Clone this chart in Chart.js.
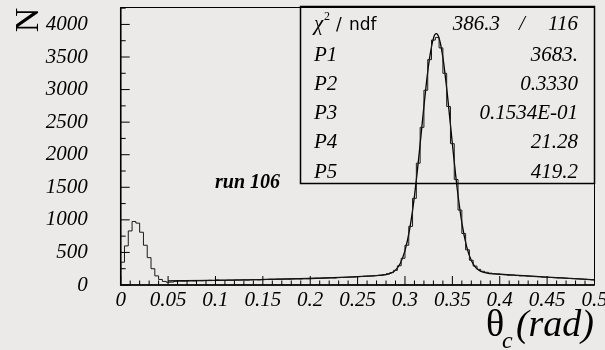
<!DOCTYPE html>
<html><head><meta charset="utf-8">
<script src="https://cdn.jsdelivr.net/npm/chart.js@4"></script>
<style>html,body{margin:0;padding:0;background:#eceae9;}#wrap{width:605px;height:350px;}</style>
</head><body><div id="wrap"><canvas id="c" width="605" height="350"></canvas></div>
<script>
// ---- data ----
const binWidth = 0.004;
const binCounts = [
 350,600,830,975,950,810,610,420,250,140,
 85,55,42,45,55,62,60,64,66,63,
 68,66,70,72,69,78,74,73,76,75,
 78,77,80,76,82,84,80,86,84,88,
 86,90,88,92,90,95,97,94,100,98,
 102,104,101,106,108,110,107,114,116,118,
 122,121,127,130,134,138,141,146,150,160,
 172,190,225,295,410,610,900,1330,1870,2420,
 2990,3460,3760,3800,3640,3250,2740,2170,1620,1150,
 790,540,380,290,240,210,195,182,175,170,
 162,158,150,152,145,140,142,135,132,128,
 126,120,118,115,112,108,110,104,100,98,
 95,92,88,85,80
];
const fitX = [0.05,0.1,0.15,0.2,0.24,0.26,0.27,0.28,0.285,0.29,0.295,0.3,0.305,0.31,0.315,0.32,0.325,0.33,0.333,0.336,0.34,0.345,0.35,0.355,0.36,0.365,0.37,0.375,0.38,0.39,0.4,0.42,0.45,0.5];
const fitY = [62,72,84,100,120,135,144,159,181,229,331,527,862,1365,2021,2744,3388,3787,3858,3788,3494,2889,2169,1493,959,594,376,262,208,176,165,148,120,80];
const xTickValues = [0,0.05,0.1,0.15,0.2,0.25,0.3,0.35,0.4,0.45,0.5];
const xTickLabels = ["0","0.05","0.1","0.15","0.2","0.25","0.3","0.35","0.4","0.45","0.5"];
const yTickValues = [0,500,1000,1500,2000,2500,3000,3500,4000];
const yTickLabels = ["0","500","1000","1500","2000","2500","3000","3500","4000"];
const statNames = ["P1","P2","P3","P4","P5"];
const statValues = ["3683.","0.3330","0.1534E-01","21.28","419.2"];
const chi2Value = "386.3";
const ndfValue = "116";
const runLabel = "run 106";

// ---- chart ----
const SERIF = "'Liberation Serif', 'Times New Roman', serif";
const tickFont = {family: SERIF, size: 21, style: 'italic'};

const histPoints = [{x: 0, y: 0}].concat(
  binCounts.map((c, i) => ({x: i * binWidth, y: c})),
  [{x: binCounts.length * binWidth, y: binCounts[binCounts.length - 1]}]
);
const fitPoints = fitX.map((x, i) => ({x: x, y: fitY[i]}));

const rootStyle = {
  id: 'rootStyle',
  beforeDraw(chart) {
    const ctx = chart.ctx;
    ctx.save();
    ctx.fillStyle = '#eceae9';
    ctx.fillRect(0, 0, chart.width, chart.height);
    ctx.restore();
  },
  afterDatasetsDraw(chart) {
    const ctx = chart.ctx;
    const a = chart.chartArea;
    const xs = chart.scales.x, ys = chart.scales.y;
    ctx.save();
    // frame
    ctx.strokeStyle = '#000';
    ctx.lineWidth = 1;
    ctx.strokeRect(a.left, a.top, a.right - a.left, a.bottom - a.top);
    ctx.lineWidth = 1.5;
    ctx.beginPath();
    ctx.moveTo(a.left, a.top); ctx.lineTo(a.left, a.bottom); ctx.lineTo(a.right, a.bottom);
    ctx.stroke();
    // ticks
    ctx.lineWidth = 1;
    ctx.beginPath();
    for (let k = 0; k < xTickValues.length; k++) {
      const v = xTickValues[k];
      const px = xs.getPixelForValue(v);
      ctx.moveTo(px, a.bottom); ctx.lineTo(px, a.bottom - 9);
      if (k < xTickValues.length - 1) {
        const step = (xTickValues[k + 1] - v) / 5;
        for (let m = 1; m < 5; m++) {
          const pm = xs.getPixelForValue(v + m * step);
          ctx.moveTo(pm, a.bottom); ctx.lineTo(pm, a.bottom - 4.5);
        }
      }
    }
    for (let k = 0; k < yTickValues.length; k++) {
      const v = yTickValues[k];
      const py = ys.getPixelForValue(v);
      ctx.moveTo(a.left, py); ctx.lineTo(a.left + 9, py);
      const half = v + (yTickValues[1] - yTickValues[0]) / 2;
      if (half < ys.max) {
        const ph = ys.getPixelForValue(half);
        ctx.moveTo(a.left, ph); ctx.lineTo(a.left + 5, ph);
      }
    }
    ctx.stroke();

    // stat box
    ctx.lineWidth = 1.5;
    ctx.strokeRect(300.5, 6.5, 294, 177);
    ctx.fillStyle = '#000';
    ctx.textBaseline = 'alphabetic';
    ctx.font = 'italic 21px ' + SERIF;
    ctx.textAlign = 'left';
    ctx.fillText('\u03C7', 314, 30);
    ctx.font = '12px ' + SERIF;
    ctx.fillText('2', 324, 20);
    ctx.font = "17px 'DejaVu Sans', sans-serif";
    ctx.fillText('/', 336, 30);
    ctx.fillText('ndf', 349, 30);
    ctx.font = 'italic 21px ' + SERIF;
    ctx.textAlign = 'right';
    ctx.fillText(chi2Value, 500, 30);
    ctx.fillText(ndfValue, 578, 30);
    ctx.textAlign = 'center';
    ctx.fillText('/', 522, 30);
    for (let i = 0; i < statNames.length; i++) {
      const by = 60.5 + i * 29.3;
      ctx.textAlign = 'left';
      ctx.fillText(statNames[i], 314, by);
      ctx.textAlign = 'right';
      ctx.fillText(statValues[i], 578, by);
    }
    // run label
    ctx.textAlign = 'left';
    ctx.font = 'italic bold 20px ' + SERIF;
    ctx.fillText(runLabel, 215, 188);

    // y title N (rotated)
    ctx.save();
    ctx.translate(38, 20);
    ctx.rotate(-Math.PI / 2);
    ctx.font = '34px ' + SERIF;
    ctx.textAlign = 'center';
    ctx.fillText('N', 0, 0);
    ctx.restore();

    // x title θc(rad)
    ctx.font = '38px ' + SERIF;
    ctx.textAlign = 'left';
    ctx.fillText('\u03B8', 486, 336);
    ctx.font = 'italic 24px ' + SERIF;
    ctx.fillText('c', 502, 348);
    ctx.font = 'italic 38px ' + SERIF;
    ctx.textAlign = 'right';
    ctx.fillText('(rad)', 594, 336);
    ctx.restore();
  }
};

new Chart(document.getElementById('c'), {
  type: 'line',
  data: {
    datasets: [
      {data: histPoints, stepped: 'before', borderColor: '#1a1a1a', borderWidth: 1, pointRadius: 0, fill: false},
      {data: fitPoints, borderColor: '#000', borderWidth: 1.3, pointRadius: 0, fill: false, cubicInterpolationMode: 'monotone'}
    ]
  },
  options: {
    responsive: false,
    animation: false,
    devicePixelRatio: 1,
    layout: {padding: {top: 7.5, right: 10.5, left: 0, bottom: 0}},
    plugins: {legend: {display: false}, tooltip: {enabled: false}},
    scales: {
      x: {
        type: 'linear', min: 0, max: 0.5,
        afterBuildTicks: s => { s.ticks = xTickValues.map(v => ({value: v})); },
        ticks: {callback: (v, i) => xTickLabels[i], font: tickFont, color: '#000', maxRotation: 0, autoSkip: false, padding: 3},
        grid: {display: false, drawTicks: false},
        border: {display: false},
        afterFit: s => { s.height = 65; s.paddingLeft = 0; s.paddingRight = 0; }
      },
      y: {
        type: 'linear', min: 0, max: 4260,
        afterBuildTicks: s => { s.ticks = yTickValues.map(v => ({value: v})); },
        ticks: {callback: (v, i) => yTickLabels[i], font: tickFont, color: '#000', autoSkip: false, padding: 33},
        grid: {display: false, drawTicks: false},
        border: {display: false},
        afterFit: s => { s.width = 120.7; s.paddingTop = 0; s.paddingBottom = 0; }
      }
    }
  },
  plugins: [rootStyle]
});
</script>
</body></html>
